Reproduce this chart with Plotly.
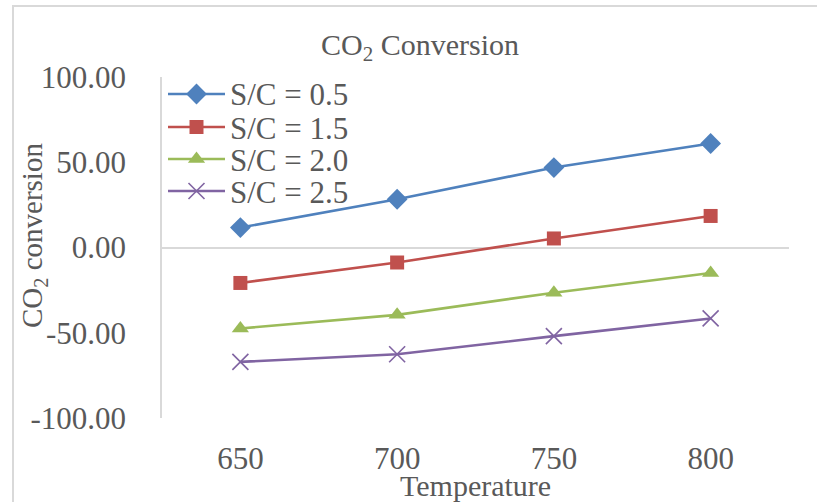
import plotly.graph_objects as go

# Temperature (°C) and CO2 conversion (%) for each steam-to-carbon ratio
temperature = [650, 700, 750, 800]
series_names = ["S/C = 0.5", "S/C = 1.5", "S/C = 2.0", "S/C = 2.5"]
sc_05 = [11.7, 28.3, 46.9, 61.0]
sc_15 = [-20.8, -8.8, 5.3, 18.5]
sc_20 = [-47.5, -39.5, -26.5, -15.0]
sc_25 = [-67.1, -62.6, -52.0, -41.6]
y_ticks = [-100, -50, 0, 50, 100]
y_tick_labels = [f"{v:.2f}" for v in y_ticks]

colors = ["#4F81BD", "#C0504D", "#9BBB59", "#8064A2"]
symbols = ["diamond", "square", "triangle-up", "x-thin"]
sizes = [16, 14, 15, 16]

FONT = "Liberation Serif"
TXT = "#595959"
AXIS = "#D9D9D9"

# Plot-area geometry in pixels (used for the legend overlay and annotations)
PLOT_L, PLOT_R, PLOT_T, PLOT_B = 162, 789, 77, 418
PW, PH = PLOT_R - PLOT_L, PLOT_B - PLOT_T


def px_x(px):
    return (px - PLOT_L) / PW


def px_y(py):
    return (PLOT_B - py) / PH


def marker_for(col, sym, sz):
    m = dict(symbol=sym, size=sz, color=col)
    if sym == "x-thin":
        m["line"] = dict(color=col, width=1.6)
    return m


fig = go.Figure()
for name, vals, col, sym, sz in zip(series_names, [sc_05, sc_15, sc_20, sc_25],
                                     colors, symbols, sizes):
    fig.add_trace(go.Scatter(
        x=temperature, y=vals, name=name, mode="lines+markers",
        line=dict(color=col, width=2.6), marker=marker_for(col, sym, sz),
        showlegend=False,
    ))

# Compact legend drawn on an overlay axis measured in plot-area pixels
legend_rows = [94, 127, 159, 191]
key_x0, key_x1, text_x = 168, 225, 228
for name, col, sym, sz, row in zip(series_names, colors, symbols, sizes, legend_rows):
    ky = PLOT_B - row
    fig.add_trace(go.Scatter(
        x=[key_x0 - PLOT_L, key_x1 - PLOT_L], y=[ky, ky], mode="lines",
        line=dict(color=col, width=2.6), xaxis="x2", yaxis="y2",
        showlegend=False, hoverinfo="skip",
    ))
    fig.add_trace(go.Scatter(
        x=[(key_x0 + key_x1) / 2 - PLOT_L], y=[ky], mode="markers",
        marker=marker_for(col, sym, sz), xaxis="x2", yaxis="y2",
        showlegend=False, hoverinfo="skip",
    ))
    fig.add_annotation(
        text=name, xref="paper", yref="paper", x=px_x(text_x), y=px_y(row + 1),
        xanchor="left", yanchor="middle", showarrow=False,
        font=dict(family=FONT, size=31, color=TXT),
    )

fig.update_layout(
    width=817, height=502,
    margin=dict(l=PLOT_L, r=817 - PLOT_R, t=PLOT_T, b=502 - PLOT_B),
    paper_bgcolor="white", plot_bgcolor="white",
    font=dict(family=FONT, color=TXT),
    showlegend=False,
    xaxis=dict(
        range=[625, 825], tickvals=temperature,
        ticktext=[str(t) for t in temperature],
        showgrid=False, zeroline=False, showline=False, ticks="",
        tickfont=dict(family=FONT, size=31, color=TXT),
        ticklabelstandoff=19,
    ),
    yaxis=dict(
        range=[-100, 100], tickvals=y_ticks, ticktext=y_tick_labels,
        showgrid=False, zeroline=True, zerolinecolor=AXIS, zerolinewidth=1.5,
        showline=True, linecolor=AXIS, linewidth=1.5, ticks="",
        tickfont=dict(family=FONT, size=31, color=TXT),
        ticklabelstandoff=28,
    ),
    xaxis2=dict(overlaying="x", range=[0, PW], visible=False, fixedrange=True),
    yaxis2=dict(overlaying="y", range=[0, PH], visible=False, fixedrange=True),
)

# Chart title and axis titles
fig.add_annotation(
    text="CO<sub>2</sub> Conversion", xref="paper", yref="paper",
    x=px_x(420), y=px_y(47), xanchor="center", yanchor="middle",
    showarrow=False, font=dict(family=FONT, size=30, color=TXT),
)
fig.add_annotation(
    text="Temperature", xref="paper", yref="paper",
    x=0.5, y=px_y(485), xanchor="center", yanchor="middle",
    showarrow=False, font=dict(family=FONT, size=30, color=TXT),
)
fig.add_annotation(
    text="CO<sub>2</sub> conversion", xref="paper", yref="paper",
    x=px_x(34), y=px_y(236), xanchor="center", yanchor="middle",
    textangle=-90, showarrow=False, font=dict(family=FONT, size=29, color=TXT),
)

# Outer chart-area border (top and left edges visible)
fig.add_shape(
    type="rect", xref="paper", yref="paper",
    x0=px_x(13), x1=1.2, y0=-0.5, y1=px_y(6),
    line=dict(color=AXIS, width=2), fillcolor="rgba(0,0,0,0)", layer="below",
)

fig.write_html("out.html")
